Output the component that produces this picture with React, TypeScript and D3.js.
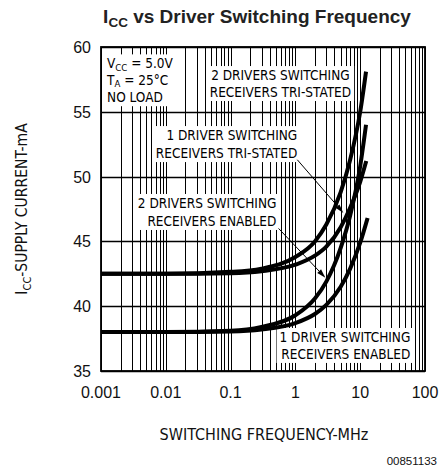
import React, { useEffect, useRef } from "react";
import * as d3 from "d3";

// ---- axis ticks ----
const freqTicks = [0.001, 0.01, 0.1, 1, 10, 100];
const freqTickLabels = ["0.001", "0.01", "0.1", "1", "10", "100"];
const currentTicks = [35, 40, 45, 50, 55, 60];
const currentTickLabels = ["35", "40", "45", "50", "55", "60"];

// ---- series (frequency in MHz, supply current in mA) ----
const freq2DrvTri = [0.001, 0.01, 0.1, 0.3, 1, 2, 3, 5, 7, 10, 12.3];
const icc2DrvTri = [42.5, 42.5, 42.65, 42.9, 43.8, 45.0, 46.3, 48.8, 51.3, 55.0, 58.1];

const freq1DrvTri = [0.001, 0.01, 0.1, 0.3, 1, 2, 3, 5, 7, 10, 12.4];
const icc1DrvTri = [42.5, 42.5, 42.55, 42.7, 43.2, 43.9, 44.6, 46.1, 47.6, 49.6, 51.2];

const freq2DrvEn = [0.001, 0.01, 0.1, 0.3, 1, 2, 3, 5, 7, 10, 12.3];
const icc2DrvEn = [38.0, 38.0, 38.1, 38.4, 39.3, 40.6, 41.9, 44.5, 47.0, 50.8, 54.0];

const freq1DrvEn = [0.001, 0.01, 0.1, 0.3, 1, 2, 3, 5, 7, 10, 13];
const icc1DrvEn = [38.0, 38.0, 38.05, 38.2, 38.7, 39.4, 40.1, 41.5, 42.9, 44.9, 46.8];

const seriesFreqs = [freq2DrvTri, freq1DrvTri, freq2DrvEn, freq1DrvEn];
const seriesValues = [icc2DrvTri, icc1DrvTri, icc2DrvEn, icc1DrvEn];

// ---- annotation texts ----
const labelTexts = [
  ["2 DRIVERS SWITCHING", "RECEIVERS TRI-STATED"],
  ["1 DRIVER SWITCHING", "RECEIVERS TRI-STATED"],
  ["2 DRIVERS SWITCHING", "RECEIVERS ENABLED"],
  ["1 DRIVER SWITCHING", "RECEIVERS ENABLED"],
];
// anchor frequency, first & second baseline current, text anchor
const labelFreq = [0.587, 1.07, 0.509, 59.5];
const labelBase1 = [57.45, 52.82, 47.58, 37.24];
const labelBase2 = [56.14, 51.43, 46.19, 35.93];
const labelAnchor = ["middle", "end", "end", "end"];

const arrowFrom = [[1.07, 51.3], [0.55, 46.0]];
const arrowTo = [[5.5, 47.2], [2.9, 42.2]];

const W = 442;
const H = 472;
const TECH = "'DejaVu Sans Condensed', 'DejaVu Sans', sans-serif";
const ARIAL = "'Liberation Sans', Arial, sans-serif";

export default function App() {
  const ref = useRef<SVGSVGElement | null>(null);

  useEffect(() => {
    const svg = d3.select(ref.current);
    svg.selectAll("*").remove();

    const x = d3.scaleLog().domain([0.001, 100]).range([101, 425]);
    const y = d3.scaleLinear().domain([35, 60]).range([371, 47]);

    // title
    const title = svg
      .append("text")
      .attr("x", 257)
      .attr("y", 23)
      .attr("text-anchor", "middle")
      .attr("font-family", ARIAL)
      .attr("font-weight", "bold")
      .attr("font-size", 19)
      .attr("fill", "#222");
    title.append("tspan").text("I");
    title.append("tspan").attr("font-size", 13.5).attr("dy", 4).text("CC");
    title.append("tspan").attr("dy", -4).text(" vs Driver Switching Frequency");

    // grid
    const grid = svg.append("g");
    const minor: number[] = [];
    for (let e = -3; e <= 1; e++) {
      for (let k = 1; k <= 9; k++) minor.push(k * Math.pow(10, e));
    }
    minor.push(100);
    grid
      .selectAll("line.v")
      .data(minor)
      .enter()
      .append("line")
      .attr("x1", (d) => Math.round(x(d)) + 0.5)
      .attr("x2", (d) => Math.round(x(d)) + 0.5)
      .attr("y1", y(60))
      .attr("y2", y(35))
      .attr("stroke", "#000")
      .attr("stroke-width", 1);
    grid
      .selectAll("line.h")
      .data(currentTicks)
      .enter()
      .append("line")
      .attr("x1", x(0.001))
      .attr("x2", x(100))
      .attr("y1", (d) => Math.round(y(d)) + 0.5)
      .attr("y2", (d) => Math.round(y(d)) + 0.5)
      .attr("stroke", "#000")
      .attr("stroke-width", 1.3);

    // frame
    svg
      .append("rect")
      .attr("x", x(0.001))
      .attr("y", y(60))
      .attr("width", x(100) - x(0.001))
      .attr("height", y(35) - y(60))
      .attr("fill", "none")
      .attr("stroke", "#000")
      .attr("stroke-width", 1.8);

    // tick labels
    svg
      .selectAll("text.yt")
      .data(currentTicks)
      .enter()
      .append("text")
      .attr("x", 91)
      .attr("y", (d) => y(d) + 6)
      .attr("text-anchor", "end")
      .attr("font-family", ARIAL)
      .attr("font-size", 16)
      .attr("fill", "#111")
      .text((d, i) => currentTickLabels[i]);
    svg
      .selectAll("text.xt")
      .data(freqTicks)
      .enter()
      .append("text")
      .attr("x", (d) => x(d))
      .attr("y", 398)
      .attr("text-anchor", "middle")
      .attr("font-family", ARIAL)
      .attr("font-size", 16)
      .attr("fill", "#111")
      .text((d, i) => freqTickLabels[i]);

    // axis titles
    svg
      .append("text")
      .attr("x", 264)
      .attr("y", 440)
      .attr("text-anchor", "middle")
      .attr("font-family", TECH)
      .attr("font-size", 16)
      .attr("fill", "#111")
      .text("SWITCHING FREQUENCY-MHz");
    const yt = svg
      .append("text")
      .attr("transform", "translate(27,209) rotate(-90)")
      .attr("text-anchor", "middle")
      .attr("font-family", TECH)
      .attr("font-size", 15.5)
      .attr("fill", "#111");
    yt.append("tspan").text("I");
    yt.append("tspan").attr("font-size", 11).attr("dy", 4).text("CC");
    yt.append("tspan").attr("dy", -4).text("-SUPPLY CURRENT-mA");

    svg
      .append("text")
      .attr("x", 437)
      .attr("y", 465)
      .attr("text-anchor", "end")
      .attr("font-family", ARIAL)
      .attr("font-size", 11.5)
      .attr("fill", "#111")
      .text("00851133");

    // boxes layer, curves layer, text layer
    const boxLayer = svg.append("g");
    const curveLayer = svg.append("g");
    const textLayer = svg.append("g");

    const addBox = (g: d3.Selection<SVGGElement, unknown, null, undefined>) => {
      const bb = (g.node() as SVGGElement).getBBox();
      boxLayer
        .append("rect")
        .attr("x", bb.x - 3)
        .attr("y", bb.y - 1)
        .attr("width", bb.width + 6)
        .attr("height", bb.height + 2)
        .attr("fill", "#fff");
    };

    // conditions box
    const cond = textLayer
      .append("g")
      .attr("font-family", TECH)
      .attr("font-size", 13.5)
      .attr("fill", "#000");
    const cx = x(0.00124);
    const c1 = cond.append("text").attr("x", cx).attr("y", y(58.35));
    c1.append("tspan").text("V");
    c1.append("tspan").attr("font-size", 9.5).attr("dy", 2.5).text("CC");
    c1.append("tspan").attr("dy", -2.5).text(" = 5.0V");
    const c2 = cond.append("text").attr("x", cx).attr("y", y(57.08));
    c2.append("tspan").text("T");
    c2.append("tspan").attr("font-size", 9.5).attr("dy", 2.5).text("A");
    c2.append("tspan").attr("dy", -2.5).text(" = 25°C");
    cond.append("text").attr("x", cx).attr("y", y(55.74)).text("NO LOAD");
    addBox(cond);

    labelTexts.forEach((lines, i) => {
      const g = textLayer
        .append("g")
        .attr("font-family", TECH)
        .attr("font-size", 13.5)
        .attr("fill", "#000")
        .attr("text-anchor", labelAnchor[i]);
      g.append("text").attr("x", x(labelFreq[i])).attr("y", y(labelBase1[i])).text(lines[0]);
      g.append("text").attr("x", x(labelFreq[i])).attr("y", y(labelBase2[i])).text(lines[1]);
      addBox(g);
    });

    // curves
    const line = d3
      .line<[number, number]>()
      .x((d) => x(d[0]))
      .y((d) => y(d[1]))
      .curve(d3.curveMonotoneX);
    seriesFreqs.forEach((fs, i) => {
      const pts = fs.map((f, j) => [f, seriesValues[i][j]] as [number, number]);
      curveLayer
        .append("path")
        .attr("d", line(pts) as string)
        .attr("fill", "none")
        .attr("stroke", "#000")
        .attr("stroke-width", 4);
    });

    // arrows
    arrowFrom.forEach((from, i) => {
      const x1 = x(from[0]);
      const y1 = y(from[1]);
      const x2 = x(arrowTo[i][0]);
      const y2 = y(arrowTo[i][1]);
      const ang = Math.atan2(y2 - y1, x2 - x1);
      const L = 9;
      const hw = 2.6;
      const bx = x2 - L * Math.cos(ang);
      const by = y2 - L * Math.sin(ang);
      curveLayer
        .append("line")
        .attr("x1", x1)
        .attr("y1", y1)
        .attr("x2", bx)
        .attr("y2", by)
        .attr("stroke", "#000")
        .attr("stroke-width", 1);
      const px = -Math.sin(ang);
      const py = Math.cos(ang);
      curveLayer
        .append("path")
        .attr(
          "d",
          `M${x2},${y2}L${bx + px * hw},${by + py * hw}L${bx - px * hw},${by - py * hw}Z`
        )
        .attr("fill", "#000");
    });
  }, []);

  return (
    <svg
      ref={ref}
      width={W}
      height={H}
      style={{ position: "absolute", left: 0, top: 0, background: "#fff" }}
    />
  );
}
